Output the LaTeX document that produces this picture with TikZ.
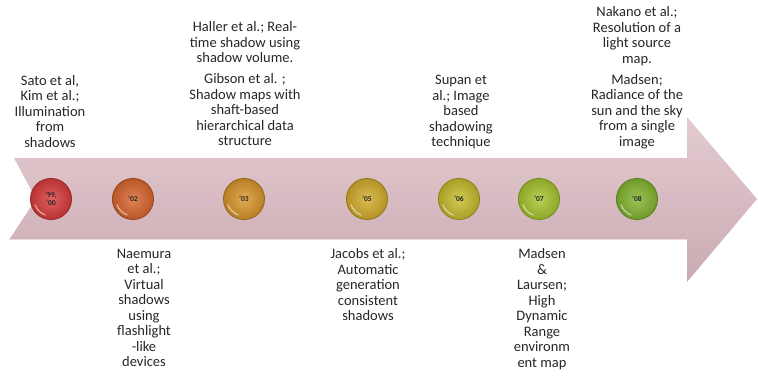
\documentclass[tikz,border=0pt]{standalone}
\usepackage{fontspec}
\setmainfont{Carlito}
\definecolor{txt}{HTML}{262626}
\definecolor{arrtop}{HTML}{E2CBD0}
\definecolor{arrmid}{HTML}{D8BBC2}
\definecolor{arrbot}{HTML}{C9AAB2}
\definecolor{c99}{HTML}{D83A3A}
\definecolor{c02}{HTML}{D8642C}
\definecolor{c03}{HTML}{D8942A}
\definecolor{c05}{HTML}{D2AC2A}
\definecolor{c06}{HTML}{C4BC2C}
\definecolor{c07}{HTML}{A6C42C}
\definecolor{c08}{HTML}{82B42E}
\tikzset{
  label text/.style={align=center, inner sep=0pt, text=txt,
    font=\fontsize{14.5}{15.5}\selectfont},
  yearball/.style={circle, minimum size=42pt, inner sep=0pt, align=center,
    text=black!85, font=\fontsize{7.5}{7.5}\selectfont\bfseries,
    inner color=#1!80!white, outer color=#1!85!black},
  gloss/.style={white, opacity=0.55, line width=1.2pt, line cap=round},
}
\begin{document}
\begin{tikzpicture}[x=1pt,y=1pt]
\useasboundingbox (0,0) rectangle (758,378);
% timeline arrow
\shade[top color=arrtop, bottom color=arrbot, middle color=arrmid]
  (14,220) -- (687,220) -- (687,261) -- (757,179) -- (687,96)
  -- (687,138) -- (9,138) -- (36,179) -- cycle;
\draw[white, opacity=0.5, line width=1pt] (14,220) -- (687,220);
\draw[white, opacity=0.5, line width=1pt] (9,138) -- (687,138);
% year balls
\node[yearball=c99] (b99) at (51,179) {’99,\\’00};
\node[yearball=c02] (b02) at (133,179) {’02};
\node[yearball=c03] (b03) at (244,179) {’03};
\node[yearball=c05] (b05) at (367,179) {’05};
\node[yearball=c06] (b06) at (459,179) {’06};
\node[yearball=c07] (b07) at (539,179) {’07};
\node[yearball=c08] (b08) at (637,179) {’08};
\foreach \b in {b99,b02,b03,b05,b06,b07,b08}{
  \draw[gloss] (\b.center) ++(200:17) arc (200:250:17);
  \draw[black, opacity=0.18, line width=0.8pt] (\b) circle (20.5);
}
% texts above
\node[label text, anchor=north] (t99) at (50,303)
  {Sato et al,\\Kim et al.;\\Illumination\\from\\shadows};
\node[label text, anchor=north] (t03) at (245,356.5)
  {Haller et al.; Real-\\time shadow using\\shadow volume.\\[5.5pt]Gibson et al. ;\\Shadow maps with\\shaft-based\\hierarchical data\\structure};
\node[label text, anchor=north] (t06) at (461,303)
  {Supan et\\al.; Image\\based\\shadowing\\technique};
\node[label text, anchor=north] (t08) at (637,371.5)
  {Nakano et al.;\\Resolution of a\\light source\\map.\\[5.5pt]Madsen;\\Radiance of the\\sun and the sky\\from a single\\image};
% texts below
\node[label text, anchor=north] (t02) at (144,129.5)
  {Naemura\\et al.;\\Virtual\\shadows\\using\\flashlight\\-like\\devices};
\node[label text, anchor=north] (t05) at (368,129.5)
  {Jacobs et al.;\\Automatic\\generation\\consistent\\shadows};
\node[label text, anchor=north] (t07) at (542,129.5)
  {Madsen\\\&\\Laursen;\\High\\Dynamic\\Range\\environm\\ent map};
\end{tikzpicture}
\end{document}
